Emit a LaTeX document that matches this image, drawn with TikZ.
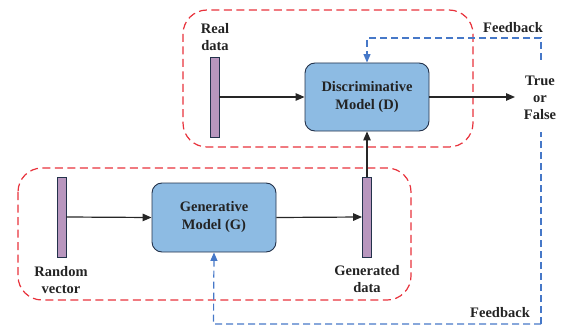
\documentclass[tikz,border=0pt]{standalone}
\usepackage{fontspec}
\setmainfont{Liberation Serif}
\usetikzlibrary{arrows.meta}
\definecolor{boxblue}{RGB}{141,187,227}
\definecolor{navy}{RGB}{35,50,75}
\definecolor{barpurple}{RGB}{184,150,190}
\definecolor{redd}{RGB}{232,50,60}
\definecolor{blued}{RGB}{70,120,200}
\definecolor{txt}{RGB}{35,35,35}
\tikzset{
  model/.style={draw=navy, line width=0.9pt, fill=boxblue, rounded corners=10pt,
    minimum width=124pt, minimum height=68pt, align=center, text=txt,
    font=\bfseries\fontsize{14.5}{18}\selectfont},
  bar/.style={draw=navy, line width=0.8pt, fill=barpurple, minimum width=9pt, minimum height=80pt, inner sep=0pt},
  lbl/.style={align=center, text=txt, font=\bfseries\fontsize{14.5}{17}\selectfont, inner sep=1pt},
  group/.style={draw=redd, line width=1.2pt, dash pattern=on 8pt off 4.5pt, rounded corners=24pt},
  flow/.style={draw=black!85, line width=1.2pt, -{Triangle[length=9pt,width=7.5pt]}},
  fb/.style={draw=blued, line width=1.2pt, dash pattern=on 7pt off 4pt},
  fbarrow/.style={fb, -{Triangle[length=8.5pt,width=7pt]}}
}
\begin{document}
\begin{tikzpicture}[x=1pt,y=-1pt]
\useasboundingbox (0,0) rectangle (561,326);
% groups
\draw[group] (183,10) rectangle (473,147);
\draw[group] (18,168) rectangle (411,300);
% nodes
\node[model] (D) at (367,97) {Discriminative\\Model (D)};
\node[model, minimum height=69pt] (G) at (214,217.5) {Generative\\Model (G)};
\node[bar] (real) at (214.5,97) {};
\node[bar] (rand) at (61.5,217) {};
\node[bar] (gen) at (367,217) {};
\node[lbl] (reall) at (215,37) {Real\\data};
\node[lbl] (randl) at (61,280) {Random\\vector};
\node[lbl] (genl) at (367,279) {Generated\\data};
\coordinate (out) at (515,97);
\coordinate (fbTR) at (541,38);
\coordinate (fbTL) at (367,38);
\coordinate (fbBR) at (541,324);
\coordinate (fbBL) at (213.5,324);
% flows
\draw[flow] (real.east) -- (D.west);
\draw[flow] (D.east) -- (out);
\draw[flow] (gen.north) -- (D.south);
\draw[flow] (rand.east) -- (G.west);
\draw[flow] (G.east) -- (gen.west);
% feedback
\draw[fbarrow] (fbBR) -- (fbTR) -- (fbTL) -- (D.north);
\draw[fbarrow] (fbBR) -- (fbBL) -- (G.south);
\node[lbl, fill=white, minimum height=68pt, inner xsep=2pt] (tf) at (540,98) {True\\or\\False};
\node[lbl] (fbt) at (513,28) {Feedback};
\node[lbl] (fbb) at (500,313) {Feedback};
\end{tikzpicture}
\end{document}
